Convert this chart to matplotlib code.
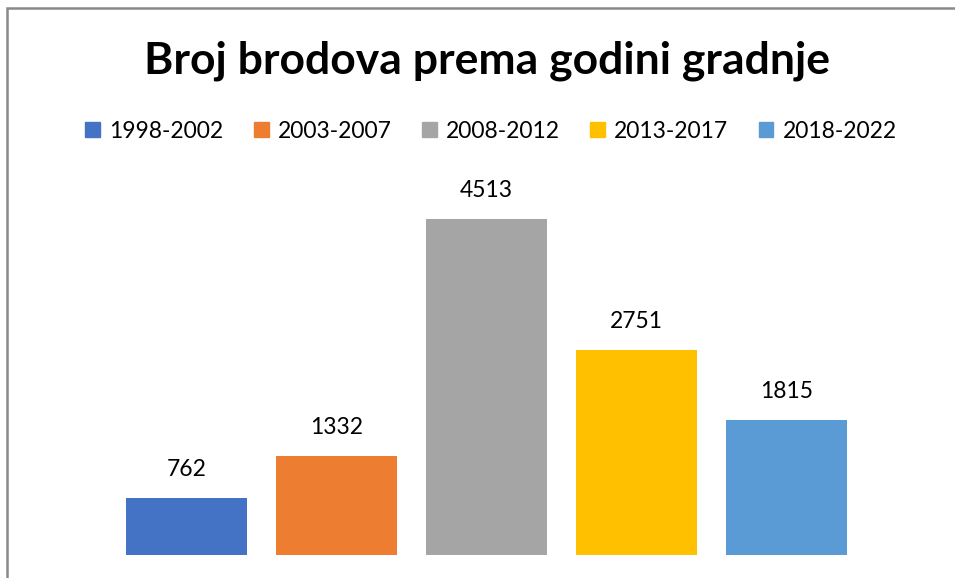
import numpy as np
import matplotlib.pyplot as plt
from matplotlib.patches import Rectangle, Patch

# Dati: numero di navi per periodo di costruzione
periodi = ['1998-2002', '2003-2007', '2008-2012', '2013-2017', '2018-2022']
brodovi = [762, 1332, 4513, 2751, 1815]
colori = ['#4472C4', '#ED7D31', '#A5A5A5', '#FFC000', '#5B9BD5']

plt.rcParams['font.family'] = ['Lato', 'DejaVu Sans']

W, H = 955, 578
fig = plt.figure(figsize=(W/100, H/100), dpi=100)

# area del grafico (in pixel dell'immagine)
x0, x1 = 111.5, 861.5
y_top, y_bot = 182.5, 555
ax = fig.add_axes([x0/W, 1 - y_bot/H, (x1-x0)/W, (y_bot-y_top)/H])

x = np.arange(len(periodi))
bars = ax.bar(x, brodovi, width=0.807, color=colori)
for xi, v in zip(x, brodovi):
    ax.annotate(str(v), (xi, v), xytext=(0, 18), textcoords='offset pixels',
                ha='center', va='bottom', fontsize=16.5)

ax.set_xlim(-0.5, 4.5)
ax.set_ylim(0, 5000)
ax.axis('off')

fig.text(487/W, 1 - 61/H, 'Broj brodova prema godini gradnje',
         ha='center', va='center', fontsize=32, fontweight='bold')

handles = [Patch(color=c) for c in colori]
fig.legend(handles, periodi, loc='center', bbox_to_anchor=(491/W, 1 - 131/H),
           ncol=5, frameon=False, fontsize=16.5, handlelength=0.65, handleheight=0.65,
           handletextpad=0.4, columnspacing=1.32)

# cornice grigia (solo sinistra e sopra visibili)
fig.patches.append(Rectangle((7/W, -0.1), 1.2, 1 - 8.5/H + 0.1,
                             transform=fig.transFigure, fill=False,
                             edgecolor='#898989', linewidth=1.8))

fig.savefig('out.png', dpi=100)
